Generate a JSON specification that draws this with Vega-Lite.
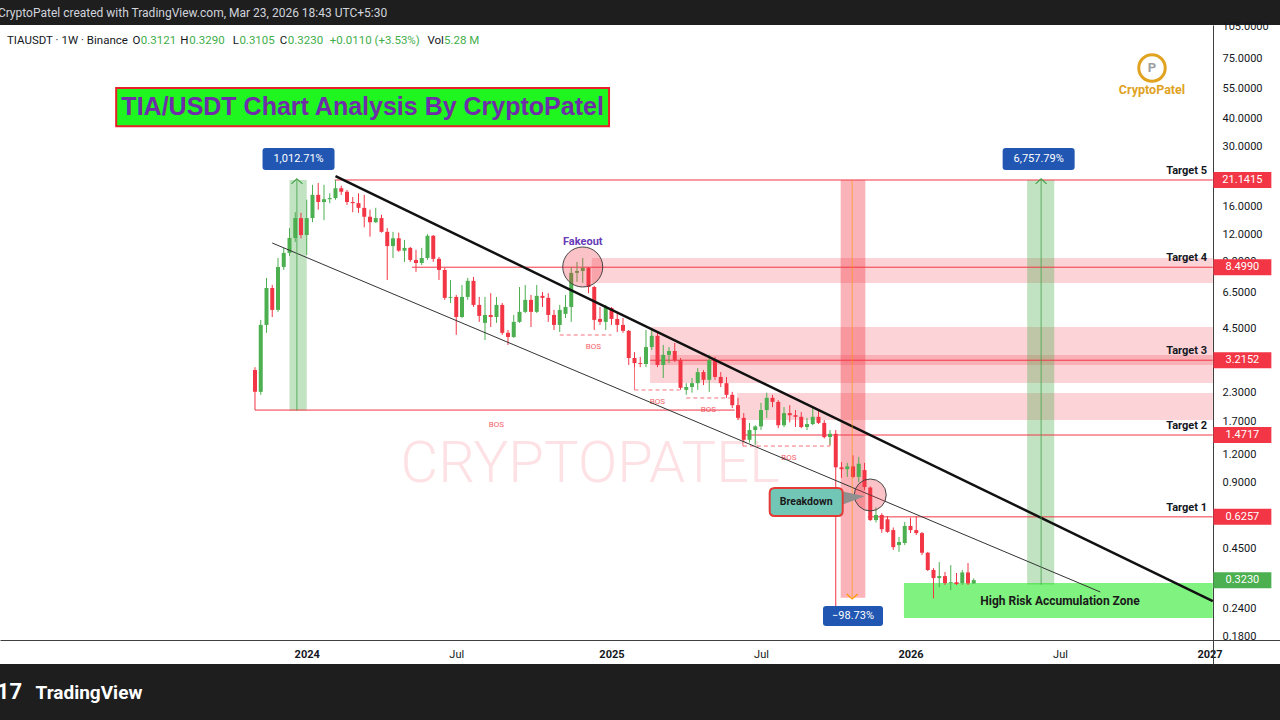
{
"$schema": "https://vega.github.io/schema/vega-lite/v6.json",
"width": 1280, "height": 639,
"autosize": {"type": "none"},
"padding": {"left": 0, "top": 25, "right": 0, "bottom": 56},
"background": "#1e1e1e",
"config": {"view": {"fill": "#ffffff", "stroke": null}, "font": "Roboto", "axis": {"grid": false, "ticks": false, "labelColor": "#131722", "labelFontSize": 11, "domainColor": "#3f3f3f", "labelFont": "Roboto"}, "scale": {"continuousPadding": 0}},
"datasets": {
"candles": [
{"d":"2023-10-30","o":2.90,"h":2.99,"l":1.91,"c":2.31},
{"d":"2023-11-06","o":2.31,"h":4.90,"l":2.24,"c":4.65},
{"d":"2023-11-13","o":4.65,"h":7.60,"l":4.28,"c":6.84},
{"d":"2023-11-20","o":6.84,"h":7.06,"l":5.05,"c":5.44},
{"d":"2023-11-27","o":5.44,"h":9.36,"l":5.33,"c":8.52},
{"d":"2023-12-04","o":8.52,"h":10.4,"l":8.26,"c":9.87},
{"d":"2023-12-11","o":9.87,"h":12.8,"l":9.56,"c":11.54},
{"d":"2023-12-18","o":11.54,"h":15.1,"l":11.07,"c":14.2},
{"d":"2023-12-25","o":14.2,"h":15.0,"l":11.5,"c":11.9},
{"d":"2024-01-01","o":11.9,"h":17.2,"l":9.66,"c":14.2},
{"d":"2024-01-08","o":14.2,"h":20.1,"l":13.6,"c":18.1},
{"d":"2024-01-15","o":18.1,"h":20.5,"l":15.5,"c":16.8},
{"d":"2024-01-22","o":16.8,"h":20.1,"l":13.9,"c":17.3},
{"d":"2024-01-29","o":17.3,"h":18.4,"l":16.6,"c":17.5},
{"d":"2024-02-05","o":17.5,"h":21.14,"l":17.2,"c":19.4},
{"d":"2024-02-12","o":19.4,"h":19.9,"l":18.1,"c":18.7},
{"d":"2024-02-19","o":18.7,"h":19.05,"l":16.3,"c":16.8},
{"d":"2024-02-26","o":16.8,"h":17.7,"l":15.1,"c":16.6},
{"d":"2024-03-04","o":16.6,"h":18.4,"l":15.0,"c":15.8},
{"d":"2024-03-11","o":15.8,"h":18.1,"l":12.9,"c":14.4},
{"d":"2024-03-18","o":14.4,"h":15.5,"l":11.7,"c":13.6},
{"d":"2024-03-25","o":13.6,"h":15.8,"l":13.5,"c":14.2},
{"d":"2024-04-01","o":14.2,"h":14.7,"l":12.2,"c":12.3},
{"d":"2024-04-08","o":12.3,"h":12.8,"l":7.44,"c":10.6},
{"d":"2024-04-15","o":10.6,"h":12.3,"l":9.36,"c":11.5},
{"d":"2024-04-22","o":11.5,"h":12.2,"l":9.98,"c":10.1},
{"d":"2024-04-29","o":10.1,"h":11.3,"l":8.98,"c":10.4},
{"d":"2024-05-06","o":10.4,"h":10.5,"l":8.98,"c":9.17},
{"d":"2024-05-13","o":9.17,"h":10.2,"l":8.09,"c":8.88},
{"d":"2024-05-20","o":8.88,"h":10.4,"l":8.70,"c":9.36},
{"d":"2024-05-27","o":9.36,"h":12.0,"l":9.17,"c":11.8},
{"d":"2024-06-03","o":11.8,"h":11.9,"l":8.98,"c":9.27},
{"d":"2024-06-10","o":9.27,"h":9.46,"l":7.44,"c":8.26},
{"d":"2024-06-17","o":8.26,"h":8.43,"l":6.04,"c":6.17},
{"d":"2024-06-24","o":6.17,"h":7.44,"l":5.85,"c":6.23},
{"d":"2024-07-01","o":6.23,"h":6.36,"l":4.19,"c":5.05},
{"d":"2024-07-08","o":5.05,"h":7.06,"l":5.0,"c":6.23},
{"d":"2024-07-15","o":6.23,"h":7.60,"l":6.04,"c":7.37},
{"d":"2024-07-22","o":7.37,"h":7.68,"l":5.61,"c":5.73},
{"d":"2024-07-29","o":5.73,"h":6.23,"l":4.80,"c":5.11},
{"d":"2024-08-05","o":4.75,"h":6.23,"l":3.97,"c":5.16},
{"d":"2024-08-12","o":5.16,"h":6.48,"l":4.55,"c":5.05},
{"d":"2024-08-19","o":5.05,"h":6.23,"l":4.75,"c":5.73},
{"d":"2024-08-26","o":5.73,"h":5.85,"l":4.19,"c":4.28},
{"d":"2024-09-02","o":4.28,"h":4.41,"l":3.77,"c":4.10},
{"d":"2024-09-09","o":4.10,"h":5.16,"l":4.06,"c":4.80},
{"d":"2024-09-16","o":4.80,"h":6.91,"l":4.75,"c":5.33},
{"d":"2024-09-23","o":5.33,"h":7.06,"l":5.27,"c":6.04},
{"d":"2024-09-30","o":6.04,"h":6.36,"l":4.55,"c":5.33},
{"d":"2024-10-07","o":5.33,"h":7.06,"l":5.27,"c":6.30},
{"d":"2024-10-14","o":6.30,"h":6.56,"l":5.61,"c":6.17},
{"d":"2024-10-21","o":6.17,"h":6.48,"l":4.80,"c":5.16},
{"d":"2024-10-28","o":5.16,"h":5.44,"l":4.41,"c":4.65},
{"d":"2024-11-04","o":4.65,"h":5.73,"l":4.32,"c":5.44},
{"d":"2024-11-11","o":5.22,"h":6.36,"l":5.0,"c":5.61},
{"d":"2024-11-18","o":5.61,"h":8.52,"l":4.80,"c":8.01},
{"d":"2024-11-25","o":8.01,"h":8.98,"l":7.29,"c":8.17},
{"d":"2024-12-02","o":8.17,"h":9.36,"l":7.21,"c":8.43},
{"d":"2024-12-09","o":8.43,"h":8.52,"l":6.48,"c":6.91},
{"d":"2024-12-16","o":6.91,"h":7.0,"l":4.41,"c":4.90},
{"d":"2024-12-23","o":4.95,"h":5.61,"l":4.65,"c":4.80},
{"d":"2024-12-30","o":4.80,"h":5.73,"l":4.41,"c":5.61},
{"d":"2025-01-06","o":5.55,"h":5.61,"l":4.65,"c":4.95},
{"d":"2025-01-13","o":4.95,"h":5.33,"l":4.32,"c":4.65},
{"d":"2025-01-20","o":4.65,"h":5.0,"l":4.28,"c":4.37},
{"d":"2025-01-27","o":4.37,"h":4.41,"l":3.06,"c":3.29},
{"d":"2025-02-03","o":3.29,"h":3.50,"l":2.99,"c":3.12},
{"d":"2025-02-10","o":3.12,"h":3.33,"l":2.99,"c":3.09},
{"d":"2025-02-17","o":3.09,"h":4.41,"l":2.99,"c":3.69},
{"d":"2025-02-24","o":3.69,"h":4.51,"l":3.58,"c":4.15},
{"d":"2025-03-03","o":4.15,"h":4.28,"l":2.99,"c":3.06},
{"d":"2025-03-10","o":3.06,"h":3.77,"l":2.67,"c":3.40},
{"d":"2025-03-17","o":3.40,"h":3.69,"l":3.12,"c":3.54},
{"d":"2025-03-24","o":3.54,"h":3.85,"l":3.16,"c":3.22},
{"d":"2025-03-31","o":3.22,"h":3.29,"l":2.36,"c":2.41},
{"d":"2025-04-07","o":2.36,"h":2.53,"l":2.24,"c":2.43},
{"d":"2025-04-14","o":2.43,"h":2.67,"l":2.29,"c":2.53},
{"d":"2025-04-21","o":2.53,"h":2.96,"l":2.36,"c":2.84},
{"d":"2025-04-28","o":2.84,"h":2.90,"l":2.48,"c":2.62},
{"d":"2025-05-05","o":2.62,"h":3.40,"l":2.31,"c":3.22},
{"d":"2025-05-12","o":3.22,"h":3.33,"l":2.62,"c":2.70},
{"d":"2025-05-19","o":2.70,"h":2.84,"l":2.43,"c":2.53},
{"d":"2025-05-26","o":2.53,"h":2.70,"l":2.17,"c":2.24},
{"d":"2025-06-02","o":2.24,"h":2.31,"l":1.95,"c":2.01},
{"d":"2025-06-09","o":2.01,"h":2.17,"l":1.72,"c":1.76},
{"d":"2025-06-16","o":1.76,"h":1.85,"l":1.37,"c":1.40},
{"d":"2025-06-23","o":1.40,"h":1.67,"l":1.36,"c":1.55},
{"d":"2025-06-30","o":1.55,"h":1.63,"l":1.33,"c":1.61},
{"d":"2025-07-07","o":1.61,"h":2.06,"l":1.55,"c":1.91},
{"d":"2025-07-14","o":1.91,"h":2.29,"l":1.76,"c":2.17},
{"d":"2025-07-21","o":2.17,"h":2.24,"l":1.97,"c":2.08},
{"d":"2025-07-28","o":2.08,"h":2.12,"l":1.58,"c":1.63},
{"d":"2025-08-04","o":1.63,"h":1.97,"l":1.60,"c":1.85},
{"d":"2025-08-11","o":1.85,"h":2.01,"l":1.68,"c":1.81},
{"d":"2025-08-18","o":1.81,"h":1.91,"l":1.60,"c":1.78},
{"d":"2025-08-25","o":1.78,"h":1.87,"l":1.58,"c":1.60},
{"d":"2025-09-01","o":1.60,"h":1.76,"l":1.55,"c":1.65},
{"d":"2025-09-08","o":1.65,"h":1.95,"l":1.63,"c":1.78},
{"d":"2025-09-15","o":1.78,"h":1.91,"l":1.65,"c":1.67},
{"d":"2025-09-22","o":1.67,"h":1.72,"l":1.42,"c":1.44},
{"d":"2025-09-29","o":1.44,"h":1.55,"l":1.33,"c":1.49},
{"d":"2025-10-06","o":1.49,"h":1.55,"l":0.244,"c":1.05},
{"d":"2025-10-13","o":1.05,"h":1.11,"l":0.94,"c":1.03},
{"d":"2025-10-20","o":1.03,"h":1.10,"l":0.95,"c":1.06},
{"d":"2025-10-27","o":1.06,"h":1.19,"l":0.94,"c":0.95},
{"d":"2025-11-03","o":0.95,"h":1.17,"l":0.90,"c":1.09},
{"d":"2025-11-10","o":1.02,"h":1.10,"l":0.828,"c":0.855},
{"d":"2025-11-17","o":0.85,"h":0.86,"l":0.60,"c":0.605},
{"d":"2025-11-24","o":0.605,"h":0.69,"l":0.59,"c":0.638},
{"d":"2025-12-01","o":0.638,"h":0.65,"l":0.53,"c":0.55},
{"d":"2025-12-08","o":0.61,"h":0.63,"l":0.53,"c":0.535},
{"d":"2025-12-15","o":0.545,"h":0.56,"l":0.443,"c":0.456},
{"d":"2025-12-22","o":0.466,"h":0.507,"l":0.434,"c":0.481},
{"d":"2025-12-29","o":0.476,"h":0.593,"l":0.466,"c":0.569},
{"d":"2026-01-05","o":0.569,"h":0.62,"l":0.528,"c":0.545},
{"d":"2026-01-12","o":0.545,"h":0.63,"l":0.518,"c":0.528},
{"d":"2026-01-19","o":0.528,"h":0.534,"l":0.42,"c":0.43},
{"d":"2026-01-26","o":0.43,"h":0.434,"l":0.355,"c":0.359},
{"d":"2026-02-02","o":0.359,"h":0.366,"l":0.267,"c":0.33},
{"d":"2026-02-09","o":0.33,"h":0.39,"l":0.30,"c":0.337},
{"d":"2026-02-16","o":0.337,"h":0.352,"l":0.307,"c":0.313},
{"d":"2026-02-23","o":0.313,"h":0.378,"l":0.291,"c":0.316},
{"d":"2026-03-02","o":0.316,"h":0.348,"l":0.307,"c":0.310},
{"d":"2026-03-09","o":0.313,"h":0.359,"l":0.307,"c":0.35},
{"d":"2026-03-16","o":0.35,"h":0.386,"l":0.307,"c":0.3121},
{"d":"2026-03-23","o":0.3121,"h":0.329,"l":0.3105,"c":0.323}
],
"zones": [
{"d":"2024-12-13","d2":"2027-01-08","p":9.357,"p2":7.207},
{"d":"2025-02-22","d2":"2027-01-08","p":4.55,"p2":3.059},
{"d":"2025-02-22","d2":"2027-01-08","p":3.396,"p2":2.535},
{"d":"2025-06-08","d2":"2027-01-08","p":2.283,"p2":1.7216}
],
"gbands": [
{"d":"2023-12-11","d2":"2024-01-01","p":21.1415,"p2":1.90},
{"d":"2026-05-27","d2":"2026-06-29","p":21.1415,"p2":0.3083}
],
"rband": [{"d":"2025-10-12","d2":"2025-11-11","p":21.1415,"p2":0.2685}],
"accum": [{"d":"2025-12-28","d2":"2027-01-08","p":0.3135,"p2":0.2174}],
"tlines": [
{"d":"2024-02-04","d2":"2027-01-08","p":21.1415},
{"d":"2024-05-08","d2":"2027-01-08","p":8.499},
{"d":"2025-02-22","d2":"2027-01-08","p":3.2152},
{"d":"2025-06-14","d2":"2027-01-08","p":1.4717},
{"d":"2025-11-14","d2":"2027-01-08","p":0.6257},
{"d":"2023-10-30","d2":"2025-06-05","p":1.91}
],
"bosdash": [
{"d":"2024-11-04","d2":"2025-01-06","p":4.185},
{"d":"2025-02-03","d2":"2025-03-30","p":2.356},
{"d":"2025-04-07","d2":"2025-05-30","p":2.167},
{"d":"2025-06-15","d2":"2025-09-29","p":1.3116}
],
"bossolid": [
{"d":"2025-02-03","p":3.291,"p2":2.356},
{"d":"2025-06-15","p":1.4717,"p2":1.3116},
{"d":"2025-09-29","p":1.42,"p2":1.3116}
],
"boslabels": [
{"d":"2024-08-19","p":1.634,"t":"BOS"},
{"d":"2024-12-15","p":3.692,"t":"BOS"},
{"d":"2025-03-03","p":2.078,"t":"BOS"},
{"d":"2025-05-04","p":1.912,"t":"BOS"},
{"d":"2025-08-10","p":1.1575,"t":"BOS"}
],
"trend": [{"d":"2024-02-05","p":22.04,"d2":"2027-01-08","p2":0.2597}],
"trend2": [{"d":"2023-11-20","p":10.945,"d2":"2026-08-24","p2":0.2854}],
"gmeasure": [
{"d":"2023-12-20","p":1.90,"p2":21.1415},
{"d":"2026-06-13","p":0.3083,"p2":21.1415}
],
"rmeasure": [{"d":"2025-10-26","p":21.1415,"p2":0.2685}],
"fakeoutc": [{"d":"2024-12-02","p":8.518}],
"breakc": [{"d":"2025-11-17","p":0.7865}],
"pointer": [{"d":"2025-10-28","p":0.7619}],
"breakbox": [{"d":"2025-08-31","p":0.7309,"t":"Breakdown"}],
"bluebig": [
{"d":"2023-12-22","p":26.33,"t":"1,012.71%"},
{"d":"2026-06-10","p":26.33,"t":"6,757.79%"}
],
"bluesmall": [{"d":"2025-10-27","p":0.222,"t":"\u221298.73%"}],
"titlebox": [{"d":"2023-05-14","d2":"2025-01-03","p":55.3,"p2":37.1}],
"titletext": [{"d":"2024-03-09","p":45.3,"t":"TIA/USDT Chart Analysis By CryptoPatel"}],
"topbar": [{"d":"2022-12-21","p":121.07,"t":"CryptoPatel created with TradingView.com, Mar 23, 2026 18:43 UTC+5:30"}],
"footer": [{"d":"2023-01-04","p":0.1004,"t":"17"}],
"hdrblack": [
{"d":"2023-01-01","p":90.35,"t":"TIAUSDT \u00b7 1W \u00b7 Binance"},
{"d":"2023-06-03","p":90.35,"t":"O"},
{"d":"2023-07-31","p":90.35,"t":"H"},
{"d":"2023-10-03","p":90.35,"t":"L"},
{"d":"2023-11-29","p":90.35,"t":"C"},
{"d":"2024-05-27","p":90.35,"t":"Vol"}
],
"hdrgreen": [
{"d":"2023-06-13","p":90.35,"t":"0.3121"},
{"d":"2023-08-11","p":90.35,"t":"0.3290"},
{"d":"2023-10-11","p":90.35,"t":"0.3105"},
{"d":"2023-12-09","p":90.35,"t":"0.3230"},
{"d":"2024-01-29","p":90.35,"t":"+0.0110 (+3.53%)"},
{"d":"2024-06-16","p":90.35,"t":"5.28 M"}
],
"targets": [
{"d":"2027-01-01","p":23.23,"t":"Target 5"},
{"d":"2027-01-01","p":9.357,"t":"Target 4"},
{"d":"2027-01-01","p":3.54,"t":"Target 3"},
{"d":"2027-01-01","p":1.6175,"t":"Target 2"},
{"d":"2027-01-01","p":0.6865,"t":"Target 1"}
],
"tagsred": [
{"d":"2027-02-13","p":21.1415,"t":"21.1415"},
{"d":"2027-02-13","p":8.499,"t":"8.4990"},
{"d":"2027-02-13","p":3.2152,"t":"3.2152"},
{"d":"2027-02-13","p":1.4717,"t":"1.4717"},
{"d":"2027-02-13","p":0.6257,"t":"0.6257"}
],
"tagsgreen": [{"d":"2027-02-13","p":0.323,"t":"0.3230"}],
"accumlabel": [{"d":"2026-07-06","p":0.2597,"t":"High Risk Accumulation Zone"}],
"fakeoutlabel": [{"d":"2024-12-02","p":11.06,"t":"Fakeout"}],
"watermark": [{"d":"2024-12-11","p":1.076,"t":"CRYPTOPATEL"}],
"logoring": [{"d":"2026-10-26","p":68.14,"t":"P"}],
"logotext": [{"d":"2026-10-26","p":54.14,"t":"CryptoPatel"}]
},
"layer": [
{"data": {"name": "watermark", "format": {"parse": {"d": "date"}}},
 "mark": {"type": "text", "fontSize": 58, "font": "Roboto", "fontWeight": 300, "color": "#f23645", "opacity": 0.14, "letterSpacing": -1, "align": "center", "baseline": "middle"},
 "encoding": {"x": {"field": "d", "type": "temporal", "scale": {"type": "utc", "domain": [1671803000000, 1806435648000], "nice": false, "padding": 0}},
  "y": {"field": "p", "type": "quantitative", "scale": {"type": "log", "domain": [0.13446, 106.8], "nice": false}},
  "text": {"field": "t"}}},
{"data": {"name": "zones", "format": {"parse": {"d": "date", "d2": "date"}}},
 "mark": {"type": "rect", "color": "#f23645", "opacity": 0.22},
 "encoding": {"x": {"field": "d", "type": "temporal", "scale": {"type": "utc", "domain": [1671803000000, 1806435648000], "nice": false, "padding": 0}}, "x2": {"field": "d2"},
  "y": {"field": "p", "type": "quantitative", "scale": {"type": "log", "domain": [0.13446, 106.8], "nice": false}}, "y2": {"field": "p2"}}},
{"data": {"name": "gbands", "format": {"parse": {"d": "date", "d2": "date"}}},
 "mark": {"type": "rect", "color": "#4caf50", "opacity": 0.35},
 "encoding": {"x": {"field": "d", "type": "temporal", "scale": {"type": "utc", "domain": [1671803000000, 1806435648000], "nice": false, "padding": 0}}, "x2": {"field": "d2"},
  "y": {"field": "p", "type": "quantitative", "scale": {"type": "log", "domain": [0.13446, 106.8], "nice": false}}, "y2": {"field": "p2"}}},
{"data": {"name": "rband", "format": {"parse": {"d": "date", "d2": "date"}}},
 "mark": {"type": "rect", "color": "#f23645", "opacity": 0.38},
 "encoding": {"x": {"field": "d", "type": "temporal", "scale": {"type": "utc", "domain": [1671803000000, 1806435648000], "nice": false, "padding": 0}}, "x2": {"field": "d2"},
  "y": {"field": "p", "type": "quantitative", "scale": {"type": "log", "domain": [0.13446, 106.8], "nice": false}}, "y2": {"field": "p2"}}},
{"data": {"name": "accum", "format": {"parse": {"d": "date", "d2": "date"}}},
 "mark": {"type": "rect", "color": "#00e600", "opacity": 0.5},
 "encoding": {"x": {"field": "d", "type": "temporal", "scale": {"type": "utc", "domain": [1671803000000, 1806435648000], "nice": false, "padding": 0}}, "x2": {"field": "d2"},
  "y": {"field": "p", "type": "quantitative", "scale": {"type": "log", "domain": [0.13446, 106.8], "nice": false}}, "y2": {"field": "p2"}}},
{"data": {"name": "tlines", "format": {"parse": {"d": "date", "d2": "date"}}},
 "mark": {"type": "rule", "color": "#f23645", "strokeWidth": 1},
 "encoding": {"x": {"field": "d", "type": "temporal", "scale": {"type": "utc", "domain": [1671803000000, 1806435648000], "nice": false, "padding": 0}}, "x2": {"field": "d2"},
  "y": {"field": "p", "type": "quantitative", "scale": {"type": "log", "domain": [0.13446, 106.8], "nice": false}}}},
{"data": {"name": "bosdash", "format": {"parse": {"d": "date", "d2": "date"}}},
 "mark": {"type": "rule", "color": "#f23645", "strokeWidth": 1, "strokeDash": [4, 3], "opacity": 0.7},
 "encoding": {"x": {"field": "d", "type": "temporal", "scale": {"type": "utc", "domain": [1671803000000, 1806435648000], "nice": false, "padding": 0}}, "x2": {"field": "d2"},
  "y": {"field": "p", "type": "quantitative", "scale": {"type": "log", "domain": [0.13446, 106.8], "nice": false}}}},
{"data": {"name": "bossolid", "format": {"parse": {"d": "date"}}},
 "mark": {"type": "rule", "color": "#f23645", "strokeWidth": 1, "opacity": 0.7},
 "encoding": {"x": {"field": "d", "type": "temporal", "scale": {"type": "utc", "domain": [1671803000000, 1806435648000], "nice": false, "padding": 0}},
  "y": {"field": "p", "type": "quantitative", "scale": {"type": "log", "domain": [0.13446, 106.8], "nice": false}}, "y2": {"field": "p2"}}},
{"data": {"name": "boslabels", "format": {"parse": {"d": "date"}}},
 "mark": {"type": "text", "fontSize": 8, "color": "#f23645", "opacity": 0.8, "align": "center", "baseline": "middle"},
 "encoding": {"x": {"field": "d", "type": "temporal", "scale": {"type": "utc", "domain": [1671803000000, 1806435648000], "nice": false, "padding": 0}},
  "y": {"field": "p", "type": "quantitative", "scale": {"type": "log", "domain": [0.13446, 106.8], "nice": false}}, "text": {"field": "t"}}},
{"data": {"name": "candles", "format": {"parse": {"d": "date"}}},
 "mark": {"type": "rule", "strokeWidth": 1},
 "encoding": {"x": {"field": "d", "type": "temporal", "scale": {"type": "utc", "domain": [1671803000000, 1806435648000], "nice": false, "padding": 0},
   "axis": {"orient": "bottom", "offset": -24, "values": [{"year": 2024, "month": 1, "date": 1, "utc": true}, {"year": 2024, "month": 7, "date": 1, "utc": true}, {"year": 2025, "month": 1, "date": 6, "utc": true}, {"year": 2025, "month": 7, "date": 7, "utc": true}, {"year": 2026, "month": 1, "date": 5, "utc": true}, {"year": 2026, "month": 7, "date": 6, "utc": true}, {"year": 2027, "month": 1, "date": 4, "utc": true}],
    "labelExpr": "utcmonth(datum.value) == 0 ? utcFormat(datum.value, '%Y') : utcFormat(datum.value, '%b')",
    "labelFontWeight": {"condition": {"test": "utcmonth(datum.value) == 0", "value": "bold"}, "value": "normal"},
    "ticks": false, "grid": false, "labelPadding": 8, "labelOverlap": false, "labelFlush": false, "domainColor": "#3f3f3f",
    "title": "TradingView", "titleColor": "#ffffff", "titleFontSize": 19, "titleFontWeight": "bold", "titleFont": "Roboto", "titleX": 35, "titleY": 52, "titleAnchor": null, "titleAlign": "left", "titleBaseline": "middle"}},
  "y": {"field": "l", "type": "quantitative", "scale": {"type": "log", "domain": [0.13446, 106.8], "nice": false},
   "axis": {"orient": "right", "offset": -67, "values": [105, 75, 55, 40, 30, 16, 12, 9, 6.5, 4.5, 2.3, 1.7, 1.2, 0.9, 0.45, 0.24, 0.18], "format": ".4f", "ticks": false, "grid": false, "labelPadding": 9, "labelOverlap": false, "labelFlush": false, "title": null, "domainColor": "#3f3f3f"}},
  "y2": {"field": "h"},
  "color": {"condition": {"test": "datum.c >= datum.o", "value": "#4caf50"}, "value": "#f23645"}}},
{"data": {"name": "candles", "format": {"parse": {"d": "date"}}},
 "mark": {"type": "bar", "size": 4},
 "encoding": {"x": {"field": "d", "type": "temporal", "scale": {"type": "utc", "domain": [1671803000000, 1806435648000], "nice": false, "padding": 0}},
  "y": {"field": "o", "type": "quantitative", "scale": {"type": "log", "domain": [0.13446, 106.8], "nice": false}}, "y2": {"field": "c"},
  "color": {"condition": {"test": "datum.c >= datum.o", "value": "#4caf50"}, "value": "#f23645"}}},
{"data": {"name": "trend", "format": {"parse": {"d": "date", "d2": "date"}}},
 "mark": {"type": "rule", "color": "#111111", "strokeWidth": 2.5},
 "encoding": {"x": {"field": "d", "type": "temporal", "scale": {"type": "utc", "domain": [1671803000000, 1806435648000], "nice": false, "padding": 0}}, "x2": {"field": "d2"},
  "y": {"field": "p", "type": "quantitative", "scale": {"type": "log", "domain": [0.13446, 106.8], "nice": false}}, "y2": {"field": "p2"}}},
{"data": {"name": "trend2", "format": {"parse": {"d": "date", "d2": "date"}}},
 "mark": {"type": "rule", "color": "#333333", "strokeWidth": 1},
 "encoding": {"x": {"field": "d", "type": "temporal", "scale": {"type": "utc", "domain": [1671803000000, 1806435648000], "nice": false, "padding": 0}}, "x2": {"field": "d2"},
  "y": {"field": "p", "type": "quantitative", "scale": {"type": "log", "domain": [0.13446, 106.8], "nice": false}}, "y2": {"field": "p2"}}},
{"data": {"name": "gmeasure", "format": {"parse": {"d": "date"}}},
 "mark": {"type": "rule", "color": "#43a047", "strokeWidth": 1, "opacity": 0.8},
 "encoding": {"x": {"field": "d", "type": "temporal", "scale": {"type": "utc", "domain": [1671803000000, 1806435648000], "nice": false, "padding": 0}},
  "y": {"field": "p", "type": "quantitative", "scale": {"type": "log", "domain": [0.13446, 106.8], "nice": false}}, "y2": {"field": "p2"}}},
{"data": {"name": "gmeasure", "format": {"parse": {"d": "date"}}},
 "mark": {"type": "point", "shape": "M-1,0.7L0,-0.2L1,0.7", "size": 120, "filled": false, "stroke": "#43a047", "strokeWidth": 1.2, "opacity": 1},
 "encoding": {"x": {"field": "d", "type": "temporal", "scale": {"type": "utc", "domain": [1671803000000, 1806435648000], "nice": false, "padding": 0}},
  "y": {"field": "p2", "type": "quantitative", "scale": {"type": "log", "domain": [0.13446, 106.8], "nice": false}}}},
{"data": {"name": "rmeasure", "format": {"parse": {"d": "date"}}},
 "mark": {"type": "rule", "color": "#ff9800", "strokeWidth": 1, "opacity": 0.6},
 "encoding": {"x": {"field": "d", "type": "temporal", "scale": {"type": "utc", "domain": [1671803000000, 1806435648000], "nice": false, "padding": 0}},
  "y": {"field": "p", "type": "quantitative", "scale": {"type": "log", "domain": [0.13446, 106.8], "nice": false}}, "y2": {"field": "p2"}}},
{"data": {"name": "rmeasure", "format": {"parse": {"d": "date"}}},
 "mark": {"type": "point", "shape": "M-1,-0.7L0,0.2L1,-0.7", "size": 120, "filled": false, "stroke": "#ff9800", "strokeWidth": 1.2, "opacity": 1},
 "encoding": {"x": {"field": "d", "type": "temporal", "scale": {"type": "utc", "domain": [1671803000000, 1806435648000], "nice": false, "padding": 0}},
  "y": {"field": "p2", "type": "quantitative", "scale": {"type": "log", "domain": [0.13446, 106.8], "nice": false}}}},
{"data": {"name": "fakeoutc", "format": {"parse": {"d": "date"}}},
 "mark": {"type": "point", "shape": "circle", "size": 1600, "filled": true, "fill": "#f23645", "fillOpacity": 0.3, "stroke": "#444444", "strokeWidth": 1, "opacity": 1},
 "encoding": {"x": {"field": "d", "type": "temporal", "scale": {"type": "utc", "domain": [1671803000000, 1806435648000], "nice": false, "padding": 0}},
  "y": {"field": "p", "type": "quantitative", "scale": {"type": "log", "domain": [0.13446, 106.8], "nice": false}}}},
{"data": {"name": "breakc", "format": {"parse": {"d": "date"}}},
 "mark": {"type": "point", "shape": "circle", "size": 1024, "filled": true, "fill": "#f23645", "fillOpacity": 0.3, "stroke": "#444444", "strokeWidth": 1, "opacity": 1},
 "encoding": {"x": {"field": "d", "type": "temporal", "scale": {"type": "utc", "domain": [1671803000000, 1806435648000], "nice": false, "padding": 0}},
  "y": {"field": "p", "type": "quantitative", "scale": {"type": "log", "domain": [0.13446, 106.8], "nice": false}}}},
{"data": {"name": "pointer", "format": {"parse": {"d": "date"}}},
 "mark": {"type": "point", "shape": "M-1,-0.6L1,-0.15L-1,0.6Z", "size": 484, "filled": true, "fill": "#8f8f8f", "opacity": 1},
 "encoding": {"x": {"field": "d", "type": "temporal", "scale": {"type": "utc", "domain": [1671803000000, 1806435648000], "nice": false, "padding": 0}},
  "y": {"field": "p", "type": "quantitative", "scale": {"type": "log", "domain": [0.13446, 106.8], "nice": false}}}},
{"data": {"name": "breakbox", "format": {"parse": {"d": "date"}}},
 "mark": {"type": "point", "shape": "M-0.863,-0.384H0.863Q1,-0.384 1,-0.247V0.247Q1,0.384 0.863,0.384H-0.863Q-1,0.384 -1,0.247V-0.247Q-1,-0.384 -0.863,-0.384Z", "size": 5329, "filled": true, "fill": "#72c6b6", "stroke": "#e53935", "strokeWidth": 2, "opacity": 1},
 "encoding": {"x": {"field": "d", "type": "temporal", "scale": {"type": "utc", "domain": [1671803000000, 1806435648000], "nice": false, "padding": 0}},
  "y": {"field": "p", "type": "quantitative", "scale": {"type": "log", "domain": [0.13446, 106.8], "nice": false}}}},
{"data": {"name": "breakbox", "format": {"parse": {"d": "date"}}},
 "mark": {"type": "text", "fontSize": 10.5, "fontWeight": "bold", "color": "#1a1a1a", "align": "center", "baseline": "middle"},
 "encoding": {"x": {"field": "d", "type": "temporal", "scale": {"type": "utc", "domain": [1671803000000, 1806435648000], "nice": false, "padding": 0}},
  "y": {"field": "p", "type": "quantitative", "scale": {"type": "log", "domain": [0.13446, 106.8], "nice": false}}, "text": {"field": "t"}}},
{"data": {"name": "bluebig", "format": {"parse": {"d": "date"}}},
 "mark": {"type": "point", "shape": "M-0.917,-0.306H0.917Q1,-0.306 1,-0.222V0.222Q1,0.306 0.917,0.306H-0.917Q-1,0.306 -1,0.222V-0.222Q-1,-0.306 -0.917,-0.306Z", "size": 5184, "filled": true, "fill": "#2157b2", "opacity": 1},
 "encoding": {"x": {"field": "d", "type": "temporal", "scale": {"type": "utc", "domain": [1671803000000, 1806435648000], "nice": false, "padding": 0}},
  "y": {"field": "p", "type": "quantitative", "scale": {"type": "log", "domain": [0.13446, 106.8], "nice": false}}}},
{"data": {"name": "bluesmall", "format": {"parse": {"d": "date"}}},
 "mark": {"type": "point", "shape": "M-0.9,-0.333H0.9Q1,-0.333 1,-0.233V0.233Q1,0.333 0.9,0.333H-0.9Q-1,0.333 -1,0.233V-0.233Q-1,-0.333 -0.9,-0.333Z", "size": 3600, "filled": true, "fill": "#2157b2", "opacity": 1},
 "encoding": {"x": {"field": "d", "type": "temporal", "scale": {"type": "utc", "domain": [1671803000000, 1806435648000], "nice": false, "padding": 0}},
  "y": {"field": "p", "type": "quantitative", "scale": {"type": "log", "domain": [0.13446, 106.8], "nice": false}}}},
{"data": {"name": "bluebig", "format": {"parse": {"d": "date"}}},
 "mark": {"type": "text", "fontSize": 11, "color": "#ffffff", "align": "center", "baseline": "middle"},
 "encoding": {"x": {"field": "d", "type": "temporal", "scale": {"type": "utc", "domain": [1671803000000, 1806435648000], "nice": false, "padding": 0}},
  "y": {"field": "p", "type": "quantitative", "scale": {"type": "log", "domain": [0.13446, 106.8], "nice": false}}, "text": {"field": "t"}}},
{"data": {"name": "bluesmall", "format": {"parse": {"d": "date"}}},
 "mark": {"type": "text", "fontSize": 11, "color": "#ffffff", "align": "center", "baseline": "middle"},
 "encoding": {"x": {"field": "d", "type": "temporal", "scale": {"type": "utc", "domain": [1671803000000, 1806435648000], "nice": false, "padding": 0}},
  "y": {"field": "p", "type": "quantitative", "scale": {"type": "log", "domain": [0.13446, 106.8], "nice": false}}, "text": {"field": "t"}}},
{"data": {"name": "titlebox", "format": {"parse": {"d": "date", "d2": "date"}}},
 "mark": {"type": "rect", "fill": "#1ff51f", "stroke": "#e8202a", "strokeWidth": 2, "opacity": 1},
 "encoding": {"x": {"field": "d", "type": "temporal", "scale": {"type": "utc", "domain": [1671803000000, 1806435648000], "nice": false, "padding": 0}}, "x2": {"field": "d2"},
  "y": {"field": "p", "type": "quantitative", "scale": {"type": "log", "domain": [0.13446, 106.8], "nice": false}}, "y2": {"field": "p2"}}},
{"data": {"name": "titletext", "format": {"parse": {"d": "date"}}},
 "mark": {"type": "text", "fontSize": 25, "fontWeight": "bold", "font": "Liberation Sans", "color": "#6f2da8", "align": "center", "baseline": "middle"},
 "encoding": {"x": {"field": "d", "type": "temporal", "scale": {"type": "utc", "domain": [1671803000000, 1806435648000], "nice": false, "padding": 0}},
  "y": {"field": "p", "type": "quantitative", "scale": {"type": "log", "domain": [0.13446, 106.8], "nice": false}}, "text": {"field": "t"}}},
{"data": {"name": "topbar", "format": {"parse": {"d": "date"}}},
 "mark": {"type": "text", "fontSize": 12, "color": "#d1d4dc", "align": "left", "baseline": "middle"},
 "encoding": {"x": {"field": "d", "type": "temporal", "scale": {"type": "utc", "domain": [1671803000000, 1806435648000], "nice": false, "padding": 0}},
  "y": {"field": "p", "type": "quantitative", "scale": {"type": "log", "domain": [0.13446, 106.8], "nice": false}}, "text": {"field": "t"}}},
{"data": {"name": "footer", "format": {"parse": {"d": "date"}}},
 "mark": {"type": "text", "fontSize": 22, "fontWeight": "bold", "font": "Roboto", "color": "#ffffff", "align": "center", "baseline": "middle", "letterSpacing": -1},
 "encoding": {"x": {"field": "d", "type": "temporal", "scale": {"type": "utc", "domain": [1671803000000, 1806435648000], "nice": false, "padding": 0}},
  "y": {"field": "p", "type": "quantitative", "scale": {"type": "log", "domain": [0.13446, 106.8], "nice": false}}, "text": {"field": "t"}}},
{"data": {"name": "hdrblack", "format": {"parse": {"d": "date"}}},
 "mark": {"type": "text", "fontSize": 11.5, "color": "#131722", "align": "left", "baseline": "middle"},
 "encoding": {"x": {"field": "d", "type": "temporal", "scale": {"type": "utc", "domain": [1671803000000, 1806435648000], "nice": false, "padding": 0}},
  "y": {"field": "p", "type": "quantitative", "scale": {"type": "log", "domain": [0.13446, 106.8], "nice": false}}, "text": {"field": "t"}}},
{"data": {"name": "hdrgreen", "format": {"parse": {"d": "date"}}},
 "mark": {"type": "text", "fontSize": 11.5, "color": "#3fae4b", "align": "left", "baseline": "middle"},
 "encoding": {"x": {"field": "d", "type": "temporal", "scale": {"type": "utc", "domain": [1671803000000, 1806435648000], "nice": false, "padding": 0}},
  "y": {"field": "p", "type": "quantitative", "scale": {"type": "log", "domain": [0.13446, 106.8], "nice": false}}, "text": {"field": "t"}}},
{"data": {"name": "targets", "format": {"parse": {"d": "date"}}},
 "mark": {"type": "text", "fontSize": 11, "fontWeight": "bold", "color": "#131722", "align": "right", "baseline": "middle"},
 "encoding": {"x": {"field": "d", "type": "temporal", "scale": {"type": "utc", "domain": [1671803000000, 1806435648000], "nice": false, "padding": 0}},
  "y": {"field": "p", "type": "quantitative", "scale": {"type": "log", "domain": [0.13446, 106.8], "nice": false}}, "text": {"field": "t"}}},
{"data": {"name": "tagsred", "format": {"parse": {"d": "date"}}},
 "mark": {"type": "point", "shape": "M-1,-0.276H1V0.276H-1Z", "size": 3364, "filled": true, "fill": "#f23645", "opacity": 1},
 "encoding": {"x": {"field": "d", "type": "temporal", "scale": {"type": "utc", "domain": [1671803000000, 1806435648000], "nice": false, "padding": 0}},
  "y": {"field": "p", "type": "quantitative", "scale": {"type": "log", "domain": [0.13446, 106.8], "nice": false}}}},
{"data": {"name": "tagsgreen", "format": {"parse": {"d": "date"}}},
 "mark": {"type": "point", "shape": "M-1,-0.276H1V0.276H-1Z", "size": 3364, "filled": true, "fill": "#4caf50", "opacity": 1},
 "encoding": {"x": {"field": "d", "type": "temporal", "scale": {"type": "utc", "domain": [1671803000000, 1806435648000], "nice": false, "padding": 0}},
  "y": {"field": "p", "type": "quantitative", "scale": {"type": "log", "domain": [0.13446, 106.8], "nice": false}}}},
{"data": {"name": "tagsred", "format": {"parse": {"d": "date"}}},
 "mark": {"type": "text", "fontSize": 11, "color": "#ffffff", "align": "center", "baseline": "middle"},
 "encoding": {"x": {"field": "d", "type": "temporal", "scale": {"type": "utc", "domain": [1671803000000, 1806435648000], "nice": false, "padding": 0}},
  "y": {"field": "p", "type": "quantitative", "scale": {"type": "log", "domain": [0.13446, 106.8], "nice": false}}, "text": {"field": "t"}}},
{"data": {"name": "tagsgreen", "format": {"parse": {"d": "date"}}},
 "mark": {"type": "text", "fontSize": 11, "color": "#ffffff", "align": "center", "baseline": "middle"},
 "encoding": {"x": {"field": "d", "type": "temporal", "scale": {"type": "utc", "domain": [1671803000000, 1806435648000], "nice": false, "padding": 0}},
  "y": {"field": "p", "type": "quantitative", "scale": {"type": "log", "domain": [0.13446, 106.8], "nice": false}}, "text": {"field": "t"}}},
{"data": {"name": "accumlabel", "format": {"parse": {"d": "date"}}},
 "mark": {"type": "text", "fontSize": 12, "fontWeight": "bold", "color": "#1a1a1a", "align": "center", "baseline": "middle"},
 "encoding": {"x": {"field": "d", "type": "temporal", "scale": {"type": "utc", "domain": [1671803000000, 1806435648000], "nice": false, "padding": 0}},
  "y": {"field": "p", "type": "quantitative", "scale": {"type": "log", "domain": [0.13446, 106.8], "nice": false}}, "text": {"field": "t"}}},
{"data": {"name": "fakeoutlabel", "format": {"parse": {"d": "date"}}},
 "mark": {"type": "text", "fontSize": 11, "fontWeight": "bold", "color": "#673ab7", "align": "center", "baseline": "middle"},
 "encoding": {"x": {"field": "d", "type": "temporal", "scale": {"type": "utc", "domain": [1671803000000, 1806435648000], "nice": false, "padding": 0}},
  "y": {"field": "p", "type": "quantitative", "scale": {"type": "log", "domain": [0.13446, 106.8], "nice": false}}, "text": {"field": "t"}}},
{"data": {"name": "logoring", "format": {"parse": {"d": "date"}}},
 "mark": {"type": "point", "shape": "circle", "size": 700, "filled": false, "stroke": "#e0a21f", "strokeWidth": 3, "opacity": 1},
 "encoding": {"x": {"field": "d", "type": "temporal", "scale": {"type": "utc", "domain": [1671803000000, 1806435648000], "nice": false, "padding": 0}},
  "y": {"field": "p", "type": "quantitative", "scale": {"type": "log", "domain": [0.13446, 106.8], "nice": false}}}},
{"data": {"name": "logoring", "format": {"parse": {"d": "date"}}},
 "mark": {"type": "text", "fontSize": 13, "fontWeight": "bold", "color": "#9e9e9e", "align": "center", "baseline": "middle"},
 "encoding": {"x": {"field": "d", "type": "temporal", "scale": {"type": "utc", "domain": [1671803000000, 1806435648000], "nice": false, "padding": 0}},
  "y": {"field": "p", "type": "quantitative", "scale": {"type": "log", "domain": [0.13446, 106.8], "nice": false}}, "text": {"field": "t"}}},
{"data": {"name": "logotext", "format": {"parse": {"d": "date"}}},
 "mark": {"type": "text", "fontSize": 12.5, "fontWeight": "bold", "color": "#e0a21f", "align": "center", "baseline": "middle"},
 "encoding": {"x": {"field": "d", "type": "temporal", "scale": {"type": "utc", "domain": [1671803000000, 1806435648000], "nice": false, "padding": 0}},
  "y": {"field": "p", "type": "quantitative", "scale": {"type": "log", "domain": [0.13446, 106.8], "nice": false}}, "text": {"field": "t"}}}
]
}
